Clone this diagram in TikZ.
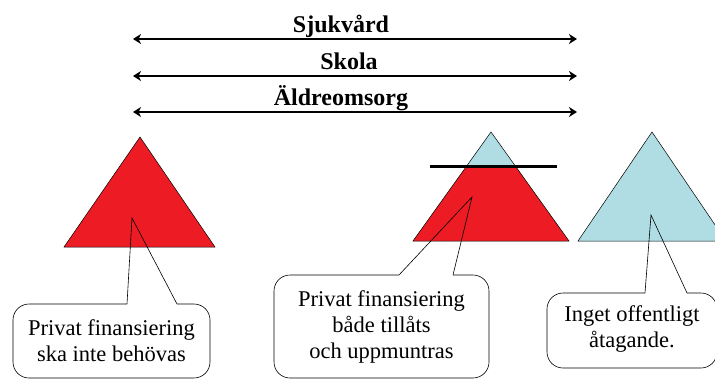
\documentclass[tikz,border=0pt]{standalone}
\usepackage{fontspec}
\setmainfont{Liberation Serif}[BoldFont={Liberation Serif Bold}]
\usetikzlibrary{arrows.meta}
\definecolor{trired}{RGB}{237,28,36}
\definecolor{triblue}{RGB}{176,221,228}

\begin{document}
\begin{tikzpicture}[x=1pt,y=-1pt,
    span/.style={line width=2.3pt,{Stealth[length=8pt,width=10pt,inset=2.5pt]}-{Stealth[length=8pt,width=10pt,inset=2.5pt]}},
    lbl/.style={font=\fontsize{24}{28}\selectfont\bfseries,inner sep=0pt,anchor=base},
    tri/.style={draw=black,line width=0.5pt},
    bubble/.style={draw,rounded corners=16pt,line width=0.6pt,outer sep=0pt,align=center,
        font=\fontsize{22.5}{26}\selectfont},
    tail/.style={line width=0.6pt}]
\clip (0,0) rectangle (715,381);

% sektorer
\coordinate (s1) at (133,39); \coordinate (e1) at (577,39);
\coordinate (s2) at (133,76); \coordinate (e2) at (577,76);
\coordinate (s3) at (133,112); \coordinate (e3) at (577,112);
\draw[span] (s1)--(e1);
\draw[span] (s2)--(e2);
\draw[span] (s3)--(e3);
\node[lbl] (sjukvard) at (341,32) {Sjukvård};
\node[lbl] (skola) at (349,69) {Skola};
\node[lbl] (aldre) at (341,105) {Äldreomsorg};

% trianglar
\filldraw[tri,fill=trired](64,247)--(140,137)--(215,247)--cycle;
\fill[triblue](413,241)--(491,132)--(569,241)--cycle;
\fill[trired](466.7,166)--(515.3,166)--(569,241)--(413,241)--cycle;
\draw[tri](413,241)--(491,132)--(569,241)--cycle;
\draw[line width=3pt](430,166)--(557,166);
\filldraw[tri,fill=triblue](578,241)--(652,132)--(726,241)--cycle;

% pratbubblor
\node[bubble,minimum width=197pt,minimum height=74pt] (box1) at (111.5,341)
    {Privat finansiering\\ska inte behövas};
\node[bubble,minimum width=215pt,minimum height=103pt] (box2) at (381.5,326.5)
    {Privat finansiering\\både tillåts\\och uppmuntras};
\node[bubble,minimum width=170pt,minimum height=75pt,text depth=8pt] (box3) at (632,330.5)
    {Inget offentligt\\åtagande.};

\coordinate (tip1) at (132,218);
\coordinate (tip2) at (472,197);
\coordinate (tip3) at (651,215);

\draw[white,line width=1.4pt](127,0 |- box1.north)--(177,0 |- box1.north);
\draw[white,line width=1.4pt](399,0 |- box2.north)--(453,0 |- box2.north);
\draw[white,line width=1.4pt](645,0 |- box3.north)--(687,0 |- box3.north);
\draw[tail](127,0 |- box1.north)--(tip1)--(177,0 |- box1.north);
\draw[tail](399,0 |- box2.north)--(tip2)--(453,0 |- box2.north);
\draw[tail](645,0 |- box3.north)--(tip3)--(687,0 |- box3.north);

\end{tikzpicture}
\end{document}
